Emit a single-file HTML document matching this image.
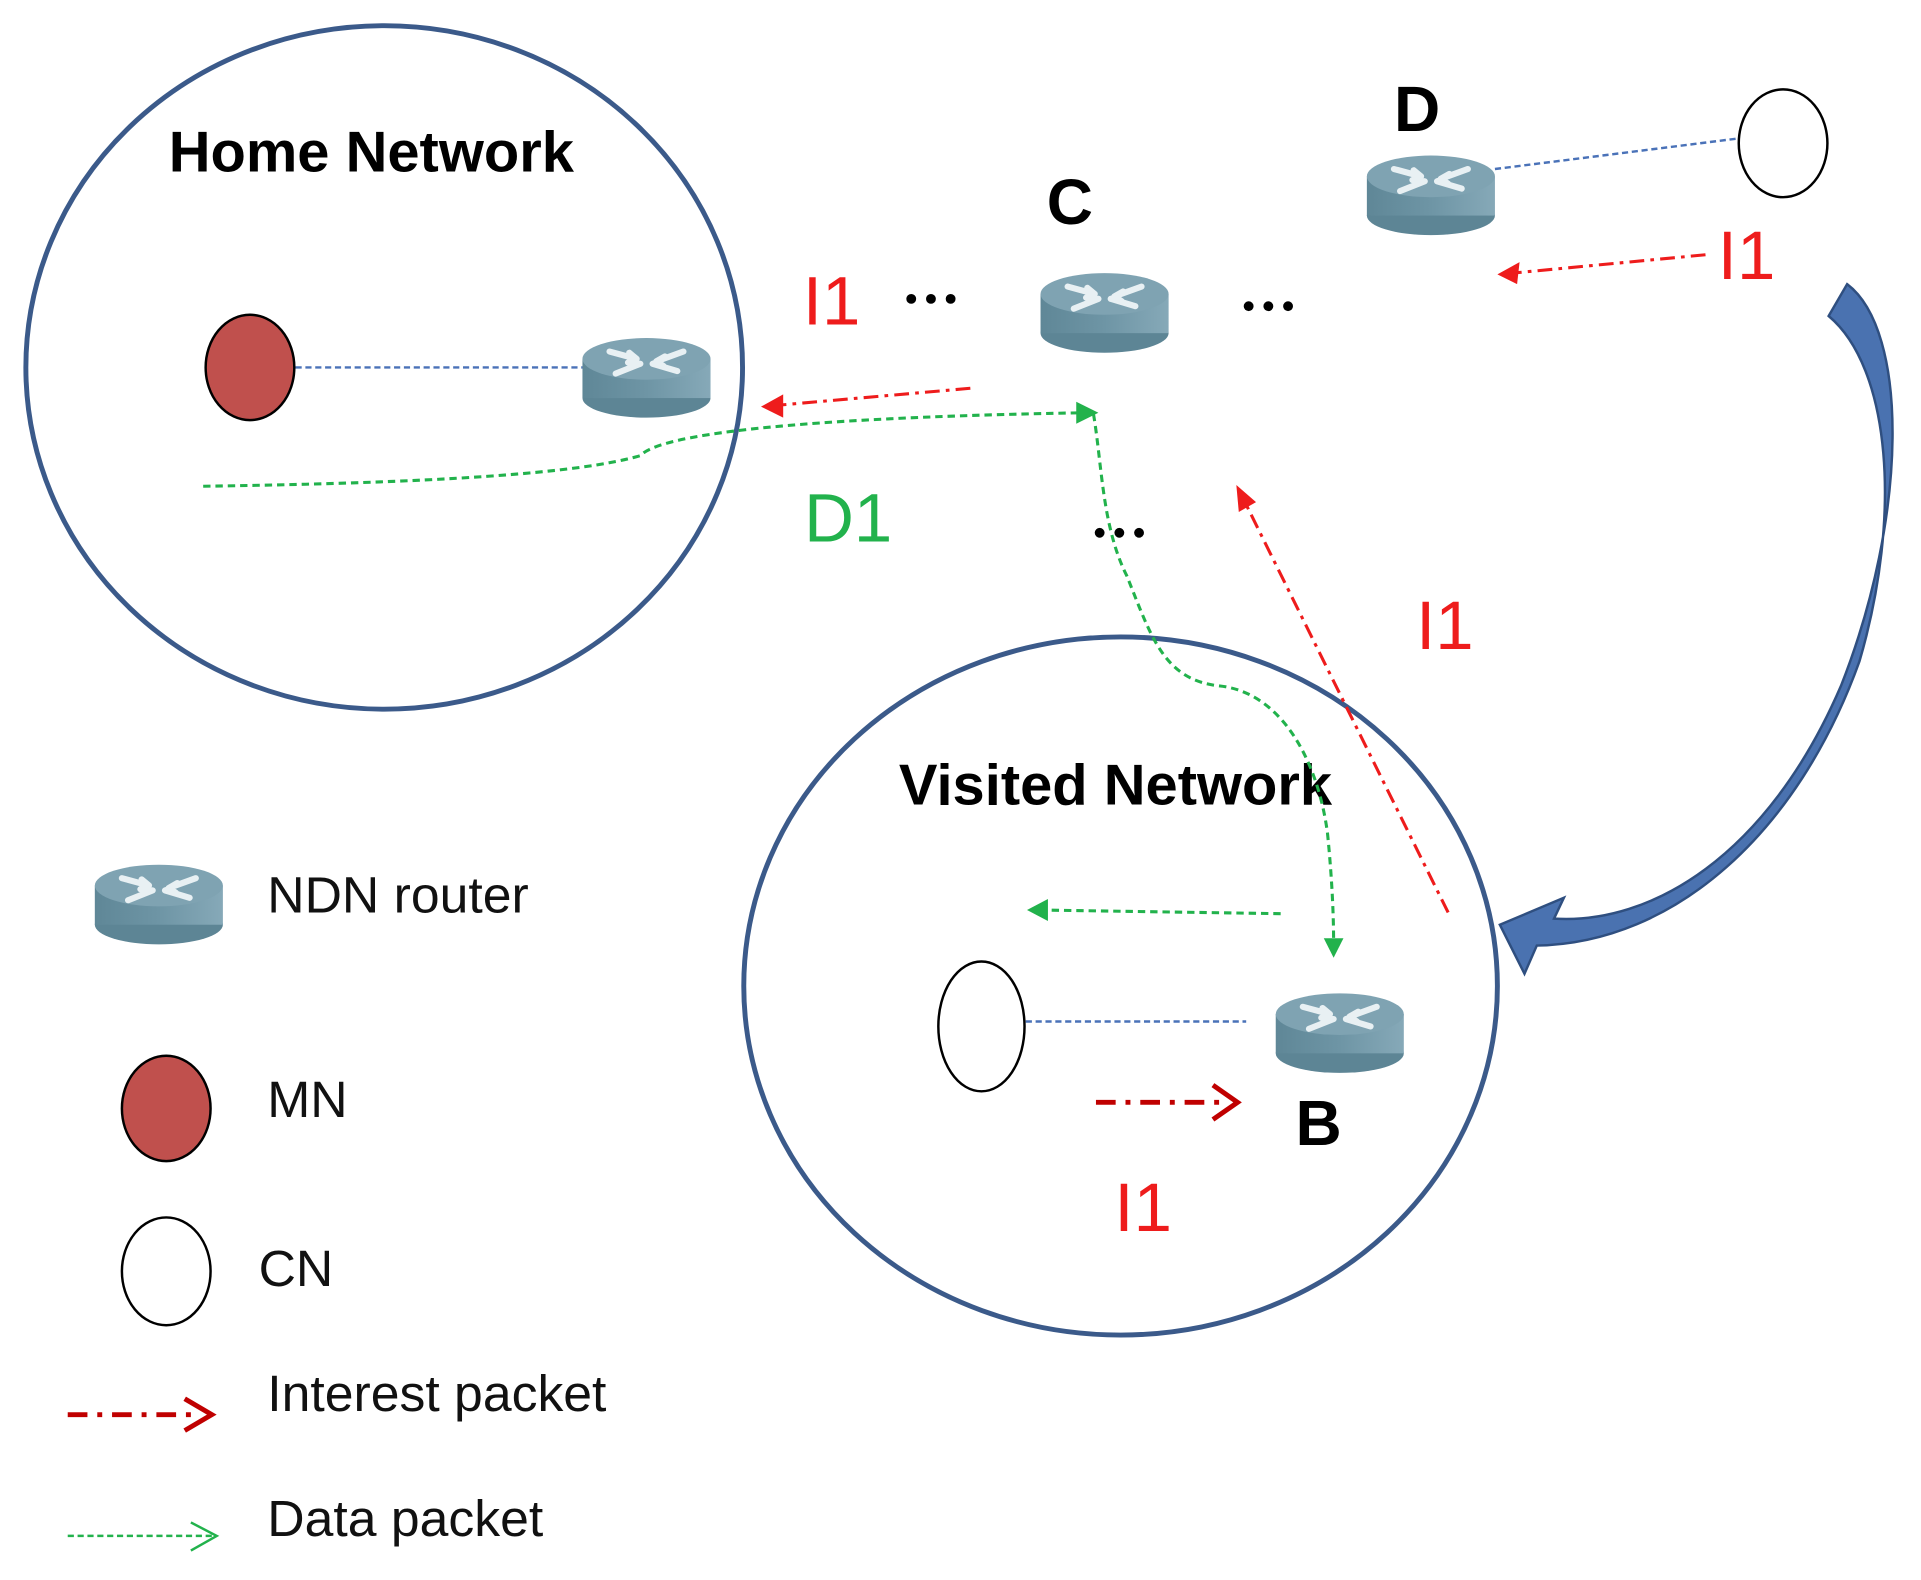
<!DOCTYPE html>
<html><head><style>
html,body{margin:0;padding:0;background:#fff;}
svg{display:block;}
text{font-family:"Liberation Sans",sans-serif;}
</style></head><body>
<svg width="1921" height="1580" viewBox="0 0 1560 1290" preserveAspectRatio="none" xmlns="http://www.w3.org/2000/svg">
<defs>
<linearGradient id="rg" x1="0" x2="1" y1="0" y2="0">
<stop offset="0" stop-color="#5f8797"/><stop offset="0.5" stop-color="#6e95a5"/><stop offset="1" stop-color="#86a9b8"/>
</linearGradient>
<g id="router">
<ellipse cx="0" cy="18" rx="52" ry="16" fill="#5d8595"/>
<rect x="-52" y="-14" width="104" height="32" fill="url(#rg)"/>
<ellipse cx="0" cy="-14" rx="52" ry="17" fill="#7fa3b2"/>
<path d="M-30,-20 L-8,-14 M-8,-14 l-6,-5 M-8,-14 l-7,3 M30,-20 L8,-12 M8,-12 l7,-4 M8,-12 l6,4 M-25,-2 L-5,-10 M-5,-10 l-7,0 M25,-4 L5,-10 M5,-10 l6,-2" stroke="#e8f0f3" stroke-width="5" fill="none" stroke-linecap="round"/>
</g>
</defs>

<ellipse cx="312" cy="300" rx="291" ry="279" fill="none" stroke="#3b5a8a" stroke-width="4"/>
<ellipse cx="910" cy="805" rx="306" ry="285" fill="none" stroke="#3b5a8a" stroke-width="4"/>

<text x="137" y="140" font-size="47" font-weight="bold">Home Network</text>
<text x="730" y="657" font-size="47" font-weight="bold">Visited Network</text>

<line x1="240" y1="300" x2="473" y2="300" stroke="#4a72b8" stroke-width="2" stroke-dasharray="5,3"/>
<line x1="1214" y1="138" x2="1412" y2="113" stroke="#4a72b8" stroke-width="2" stroke-dasharray="5,3"/>
<line x1="833" y1="834" x2="1012" y2="834" stroke="#4a72b8" stroke-width="2" stroke-dasharray="5,3"/>

<ellipse cx="203" cy="300" rx="36" ry="43" fill="#c0504d" stroke="#000" stroke-width="2"/>
<ellipse cx="1448" cy="117" rx="36" ry="44" fill="#fff" stroke="#000" stroke-width="2"/>
<ellipse cx="797" cy="838" rx="35" ry="53" fill="#fff" stroke="#000" stroke-width="2"/>

<use href="#router" x="525" y="307"/>
<use href="#router" x="897" y="254"/>
<use href="#router" x="1162" y="158"/>
<use href="#router" x="1088" y="842"/>
<use href="#router" x="129" y="737"/>

<text x="850" y="183" font-size="52" font-weight="bold">C</text>
<text x="1132" y="107" font-size="52" font-weight="bold">D</text>
<text x="1052" y="935" font-size="52" font-weight="bold">B</text>

<g fill="#000">
<circle cx="740" cy="244" r="4"/><circle cx="756" cy="244" r="4"/><circle cx="772" cy="244" r="4"/>
<circle cx="1014" cy="250" r="4"/><circle cx="1030" cy="250" r="4"/><circle cx="1046" cy="250" r="4"/>
<circle cx="893" cy="435" r="4"/><circle cx="909" cy="435" r="4"/><circle cx="925" cy="435" r="4"/>
</g>

<g fill="#ee1c1c" font-size="56">
<text x="652" y="265">I1</text>
<text x="1395" y="228">I1</text>
<text x="1150" y="530">I1</text>
<text x="905" y="1005">I1</text>
</g>
<text x="653" y="442" font-size="56" fill="#22b24c">D1</text>

<g stroke="#ee1c1c" stroke-width="2.5" fill="none" stroke-dasharray="12,5,3,5">
<line x1="1385" y1="208" x2="1228" y2="223"/>
<line x1="788" y1="317" x2="630" y2="331"/>
<line x1="1176" y1="745" x2="1010" y2="408"/>
</g>
<g fill="#ee1c1c">
<polygon points="1216,224 1234,214 1232,232"/>
<polygon points="618,332 636,322 636,341"/>
<polygon points="1004,396 1006,418 1020,410"/>
</g>

<g stroke="#22b24c" stroke-width="2.5" fill="none" stroke-dasharray="6,4">
<path d="M165,397 C300,395 460,390 520,372 C540,350 700,340 880,337"/>
<path d="M888,338 C895,380 895,430 915,470 C935,520 945,555 990,560 C1040,565 1070,620 1078,680 C1082,720 1083,750 1083,770"/>
<line x1="1040" y1="746" x2="846" y2="743"/>
</g>
<g fill="#22b24c">
<polygon points="892,337 874,328 874,346"/>
<polygon points="1083,782 1075,766 1091,766"/>
<polygon points="834,743 851,734 851,752"/>
</g>

<line x1="890" y1="900" x2="995" y2="900" stroke="#c00000" stroke-width="4" stroke-dasharray="16,8,4,8"/>
<polyline points="985,886 1005,900 985,914" stroke="#c00000" stroke-width="4" fill="none"/>

<path d="M1485,258 L1500,232 C1550,270 1550,420 1495,560 C1435,700 1340,755 1262,750 L1270,733 L1218,755 L1238,795 L1248,772 C1360,770 1460,680 1510,540 C1545,420 1535,300 1485,258 Z" fill="#4a72b0" stroke="#2f4f80" stroke-width="2"/>

<ellipse cx="135" cy="905" rx="36" ry="43" fill="#c0504d" stroke="#000" stroke-width="2"/>
<ellipse cx="135" cy="1038" rx="36" ry="44" fill="#fff" stroke="#000" stroke-width="2"/>
<g font-size="42" fill="#111">
<text x="217" y="745">NDN router</text>
<text x="217" y="912">MN</text>
<text x="210" y="1050">CN</text>
<text x="217" y="1152">Interest packet</text>
<text x="217" y="1254">Data packet</text>
</g>
<line x1="55" y1="1155" x2="160" y2="1155" stroke="#c00000" stroke-width="4" stroke-dasharray="16,8,4,8"/>
<polyline points="150,1142 172,1155 150,1168" stroke="#c00000" stroke-width="4" fill="none"/>
<line x1="55" y1="1254" x2="172" y2="1254" stroke="#22b24c" stroke-width="2" stroke-dasharray="5,3"/>
<polyline points="155,1243 176,1254 155,1266" stroke="#22b24c" stroke-width="2" fill="none"/>
</svg>
</body></html>
